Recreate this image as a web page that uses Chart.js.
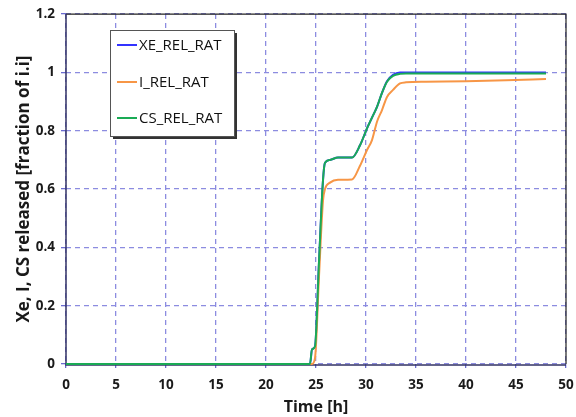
<!DOCTYPE html>
<html>
<head>
<meta charset="utf-8">
<script src="https://cdn.jsdelivr.net/npm/chart.js@4.4.1/dist/chart.umd.min.js"></script>
<style>
  html, body { margin: 0; padding: 0; background: #fff; }
  #wrap { width: 576px; height: 417px; }
</style>
</head>
<body>
<div id="wrap"><canvas id="releaseChart" width="576" height="417"></canvas></div>
<script>
// time grid [h]
const timeH = [0, 24.4, 24.6, 24.9, 25.3, 25.7, 25.9, 26.4, 27.2, 28.6, 29.4, 30.1, 30.6, 31.1, 31.6, 32.1, 32.7, 33.4, 34, 36, 40, 44, 48];
// released fractions
const xeRel = [0, 0, 0.05, 0.06, 0.35, 0.63, 0.69, 0.70, 0.708, 0.708, 0.75, 0.808, 0.845, 0.882, 0.93, 0.97, 0.992, 1.0, 1.0, 1.0, 1.0, 1.0, 1.0];
const iRel  = [0, 0, 0, 0.02, 0.30, 0.56, 0.60, 0.622, 0.632, 0.633, 0.68, 0.734, 0.768, 0.831, 0.871, 0.916, 0.94, 0.962, 0.966, 0.968, 0.970, 0.973, 0.977];
const csRel = [0, 0, 0.05, 0.06, 0.35, 0.63, 0.69, 0.70, 0.708, 0.708, 0.75, 0.808, 0.845, 0.882, 0.93, 0.968, 0.988, 0.995, 0.996, 0.996, 0.996, 0.996, 0.996];
const seriesNames = ["XE_REL_RAT", "I_REL_RAT", "CS_REL_RAT"];
const seriesColors = ["#3333ff", "#f79646", "#1aab55"];
const xTicks = [0, 5, 10, 15, 20, 25, 30, 35, 40, 45, 50];
const yTicks = [0, 0.2, 0.4, 0.6, 0.8, 1, 1.2];

const toPoints = vals => vals.map((v, i) => ({ x: timeH[i], y: v }));
const allVals = [xeRel, iRel, csRel];

// frame drawn under the lines, legend box on top
const framePlugin = {
  id: "frame",
  beforeDatasetsDraw(chart) {
    const { ctx, chartArea: a } = chart;
    ctx.save();
    ctx.strokeStyle = "#222";
    ctx.lineWidth = 1.2;
    ctx.beginPath();
    ctx.moveTo(a.left, a.top);
    ctx.lineTo(a.right, a.top);
    ctx.lineTo(a.right, a.bottom);
    ctx.stroke();
    ctx.strokeStyle = "#333366";
    ctx.lineWidth = 1.5;
    ctx.beginPath();
    ctx.moveTo(a.left, a.top);
    ctx.lineTo(a.left, a.bottom + 1);
    ctx.lineTo(a.right, a.bottom + 1);
    ctx.stroke();
    ctx.restore();
  },
  afterDatasetsDraw(chart) {
    const { ctx } = chart;
    ctx.save();
    const bx = 110, by = 30, bw = 124, bh = 106;
    ctx.fillStyle = "#333";
    ctx.fillRect(bx + 3, by + 3, bw, bh);
    ctx.fillStyle = "#fff";
    ctx.fillRect(bx, by, bw, bh);
    ctx.strokeStyle = "#555";
    ctx.lineWidth = 1;
    ctx.strokeRect(bx + 0.5, by + 0.5, bw, bh);
    ctx.font = "15px 'Open Sans', sans-serif";
    ctx.textBaseline = "middle";
    const rows = [45, 82, 118];
    chart.data.datasets.forEach((ds, i) => {
      ctx.strokeStyle = ds.borderColor;
      ctx.lineWidth = 2;
      ctx.beginPath();
      ctx.moveTo(117, rows[i]);
      ctx.lineTo(137, rows[i]);
      ctx.stroke();
      ctx.fillStyle = "#111";
      ctx.fillText(ds.label, 139, rows[i] + 1);
    });
    ctx.restore();
  }
};

const fmt = v => String(+Number(v).toFixed(1));

new Chart(document.getElementById("releaseChart").getContext("2d"), {
  type: "line",
  data: {
    datasets: seriesNames.map((name, i) => ({
      label: name,
      data: toPoints(allVals[i]),
      borderColor: seriesColors[i],
      backgroundColor: seriesColors[i],
      borderWidth: 2,
      pointRadius: 0,
      fill: false,
      clip: false,
      cubicInterpolationMode: "monotone",
      order: i === 0 ? 2 : (i === 1 ? 1 : 0)
    }))
  },
  options: {
    responsive: false,
    animation: false,
    layout: { padding: { left: 0, right: 10, top: 14, bottom: 0 } },
    plugins: {
      legend: { display: false },
      tooltip: { enabled: false }
    },
    scales: {
      x: {
        type: "linear",
        min: 0,
        max: 50,
        afterBuildTicks: axis => { axis.ticks = xTicks.map(v => ({ value: v })); },
        afterFit: axis => {
          axis.height = 53;
          axis.paddingLeft = 0;
          axis.paddingRight = 0;
        },
        grid: {
          color: "#8c8ce0",
          lineWidth: 1.3,
          tickLength: 4,
          tickColor: "#6b6bd0",
          tickBorderDash: [0, 0]
        },
        border: { display: false, dash: [5, 4] },
        ticks: {
          color: "#1a1a1a",
          font: { family: "'Open Sans', sans-serif", size: 13.5, weight: "bold" },
          padding: 9,
          maxRotation: 0,
          callback: fmt
        },
        title: {
          display: true,
          text: "Time [h]",
          color: "#1a1a1a",
          font: { family: "'Open Sans', sans-serif", size: 16, weight: "bold" },
          padding: { top: 0, bottom: 0 }
        }
      },
      y: {
        min: 0,
        max: 1.2,
        afterBuildTicks: axis => { axis.ticks = yTicks.map(v => ({ value: v })); },
        afterFit: axis => { axis.width = 66; },
        grid: {
          color: "#8c8ce0",
          lineWidth: 1.3,
          tickLength: 5,
          tickColor: "#6b6bd0",
          tickBorderDash: [0, 0]
        },
        border: { display: false, dash: [5, 4] },
        ticks: {
          color: "#1a1a1a",
          font: { family: "'Open Sans', sans-serif", size: 13.5, weight: "bold" },
          padding: 6,
          callback: fmt
        },
        title: {
          display: true,
          text: "Xe, I, CS released [fraction of i.i]",
          color: "#1a1a1a",
          font: { family: "'Open Sans', sans-serif", size: 17, weight: "bold" },
          padding: { top: 14, bottom: 0 }
        }
      }
    }
  },
  plugins: [framePlugin]
});
</script>
</body>
</html>
